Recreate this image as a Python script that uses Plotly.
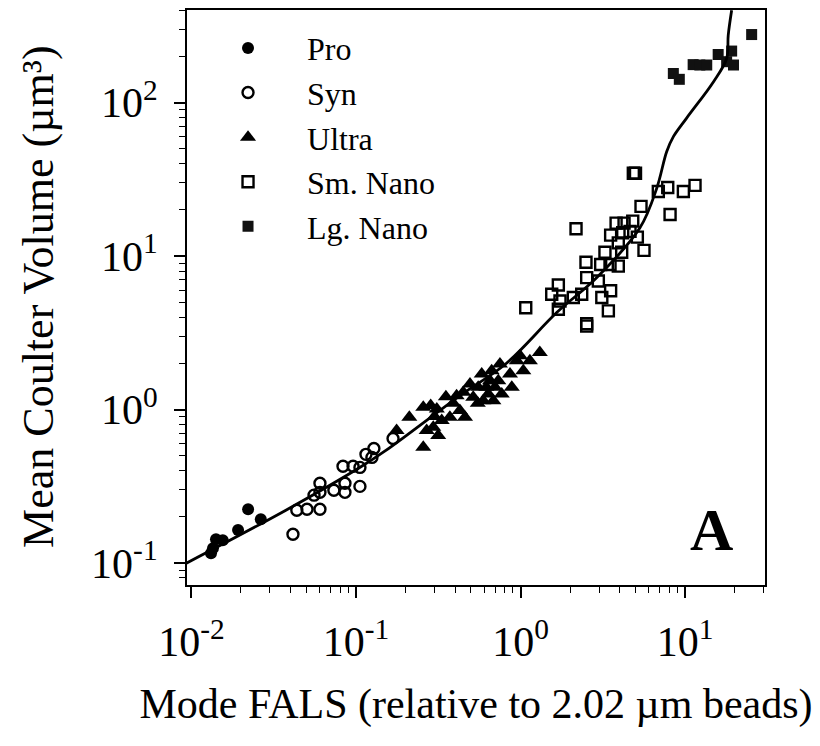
import plotly.graph_objects as go

# ---------------- data ----------------
pro_x = [0.01315, 0.01352, 0.0141, 0.0155, 0.0192, 0.0221, 0.0264]
pro_y = [0.116, 0.125, 0.143, 0.141, 0.164, 0.224, 0.193]

syn_x = [0.0414, 0.0437, 0.0504, 0.0604, 0.0556, 0.0604, 0.0604, 0.0734, 0.0857,
         0.0857, 0.0834, 0.0960, 0.1057, 0.1057, 0.115, 0.1285, 0.125, 0.168]
syn_y = [0.154, 0.221, 0.224, 0.224, 0.277, 0.331, 0.289, 0.298, 0.331,
         0.289, 0.427, 0.427, 0.420, 0.316, 0.511, 0.558, 0.488, 0.648]

ultra_x = [0.1766, 0.211, 0.2565, 0.2845, 0.310, 0.2565, 0.269, 0.295, 0.316, 0.332,
           0.352, 0.372, 0.409, 0.428, 0.460, 0.449, 0.493, 0.516, 0.553, 0.581,
           0.594, 0.637, 0.653, 0.668, 0.700, 0.684, 0.750, 0.769, 0.733, 0.863,
           0.885, 0.949, 0.993, 1.04, 1.14, 1.31, 0.30, 0.39, 0.55, 0.62]
ultra_y = [0.731, 0.891, 1.035, 1.062, 1.01, 0.569, 0.731, 0.767, 0.678, 0.849,
           1.214, 0.891, 1.233, 0.986, 0.891, 1.295, 1.469, 1.202, 1.396, 1.706,
           1.143, 1.265, 1.543, 1.792, 1.396, 1.143, 1.981, 1.265, 1.543, 1.706,
           1.396, 2.08, 2.244, 1.792, 2.08, 2.355, 0.90, 1.10, 1.10, 1.40]

smnano_x = [1.076, 2.175, 1.698, 1.548, 1.738, 1.698, 2.525, 2.525, 2.094, 2.355,
            2.525, 2.50, 2.972, 3.12, 3.42, 3.53, 3.07, 3.26, 3.50, 3.93,
            4.12, 3.93, 3.53, 4.18, 3.81, 4.26, 4.81, 4.63, 5.13, 5.63,
            5.40, 4.85, 5.0, 6.88, 7.85, 8.11, 9.77, 11.5]
smnano_y = [4.61, 15.1, 6.48, 5.64, 5.10, 4.51, 3.63, 3.50, 5.38, 5.64,
            7.25, 9.12, 6.88, 5.38, 4.40, 5.95, 8.83, 10.6, 8.83, 8.61,
            10.6, 12.2, 13.7, 14.2, 16.4, 16.4, 16.9, 14.5, 13.3, 10.9,
            21.1, 34.7, 34.7, 26.4, 28.0, 18.7, 26.4, 28.9]

lgnano_x = [8.49, 9.23, 11.2, 12.3, 13.55, 15.9, 19.2, 17.9, 19.7, 25.4]
lgnano_y = [155, 142, 177, 176, 176, 206, 217, 185, 176, 278]

fit_x = [0.00927, 0.0375, 0.106, 0.152, 0.427, 0.815, 1.66, 2.90, 5.32, 6.73,
         7.74, 8.51, 10.2, 14.9, 17.9, 18.3, 19.2]
fit_y = [0.0995, 0.221, 0.421, 0.542, 1.23, 1.99, 4.29, 7.23, 15.3, 27.7,
         48.1, 60.3, 79.1, 137, 194, 275, 400]

x_tickvals = [0.01, 0.1, 1, 10]
x_ticktext = ["10<sup>-2</sup>", "10<sup>-1</sup>", "10<sup>0</sup>", "10<sup>1</sup>"]
y_tickvals = [0.1, 1, 10, 100]
y_ticktext = ["10<sup>-1</sup>", "10<sup>0</sup>", "10<sup>1</sup>", "10<sup>2</sup>"]

x_title = "Mode FALS (relative to 2.02 \u00b5m beads)"
y_title = "Mean Coulter Volume (\u00b5m\u00b3)"

# ---------------- figure ----------------
FONT = "Liberation Serif"
fig = go.Figure()

fig.add_trace(go.Scatter(x=pro_x, y=pro_y, mode="markers", name="Pro",
                         marker=dict(symbol="circle", size=12, color="black")))
fig.add_trace(go.Scatter(x=syn_x, y=syn_y, mode="markers", name="Syn",
                         marker=dict(symbol="circle-open", size=11, color="black",
                                     line=dict(width=2.4, color="black"))))
fig.add_trace(go.Scatter(x=ultra_x, y=ultra_y, mode="markers", name="Ultra",
                         marker=dict(symbol="triangle-up", size=14, color="black")))
fig.add_trace(go.Scatter(x=smnano_x, y=smnano_y, mode="markers", name="Sm. Nano",
                         marker=dict(symbol="square-open", size=11, color="black",
                                     line=dict(width=2.4, color="black"))))
fig.add_trace(go.Scatter(x=lgnano_x, y=lgnano_y, mode="markers", name="Lg. Nano",
                         marker=dict(symbol="square", size=11, color="#111111")))
fig.add_trace(go.Scatter(x=fit_x, y=fit_y, mode="lines", showlegend=False,
                         line=dict(color="black", width=2.8, shape="spline", smoothing=1.0)))

axis_common = dict(
    type="log", showgrid=False, zeroline=False, showline=True, linecolor="black",
    linewidth=2, mirror=True, ticks="outside", ticklen=11, tickwidth=1.8,
    tickcolor="black", tickfont=dict(family=FONT, size=42, color="black"),
    tickmode="array",
    minor=dict(ticks="outside", ticklen=6, tickwidth=1.4, tickcolor="black",
               dtick="D1", showgrid=False),
)

fig.update_xaxes(**axis_common, range=[-2.027, 1.486],
                 tickvals=x_tickvals, ticktext=x_ticktext, ticklabelstandoff=8,
                 title=dict(text=x_title,
                            font=dict(family=FONT, size=42, color="black"), standoff=24))
fig.update_yaxes(**axis_common, range=[-1.143, 2.604],
                 tickvals=y_tickvals, ticktext=y_ticktext, ticklabelstandoff=8)

# y-axis title placed as a rotated annotation so it sits close to the page edge
fig.add_annotation(x=-0.258, y=0.5026, xref="paper", yref="paper", text=y_title,
                   textangle=-90, xanchor="center", yanchor="middle", showarrow=False,
                   font=dict(family=FONT, size=44, color="black"))

fig.add_annotation(x=0.908, y=0.096, xref="paper", yref="paper", text="<b>A</b>",
                   xanchor="center", yanchor="middle",
                   showarrow=False, font=dict(family=FONT, size=60, color="black"))

fig.update_layout(
    width=820, height=746,
    margin=dict(l=187, r=55, t=8, b=161),
    paper_bgcolor="white", plot_bgcolor="white",
    font=dict(family=FONT, color="black"),
    legend=dict(x=0.0035, y=0.9815, xanchor="left", yanchor="top",
                font=dict(family=FONT, size=32, color="black"),
                bgcolor="rgba(0,0,0,0)", itemwidth=108, tracegroupgap=0),
)

fig.write_html("out.html")
